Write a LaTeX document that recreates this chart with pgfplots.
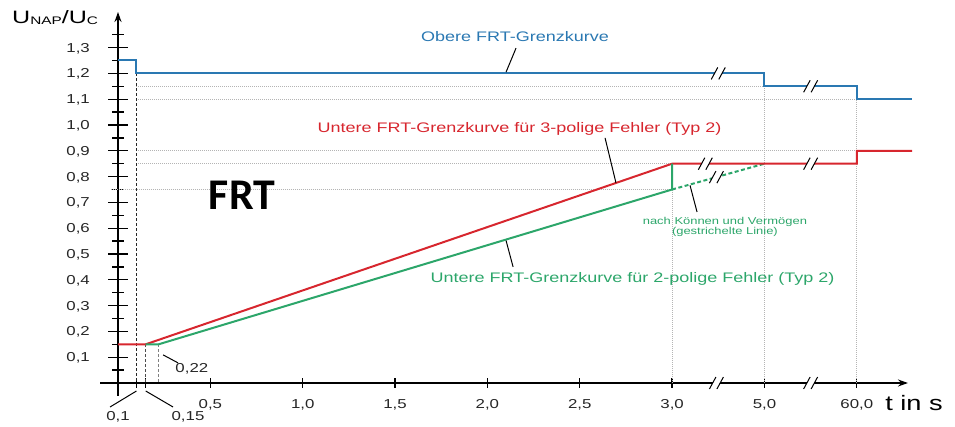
\documentclass[border=0pt]{standalone}
\usepackage{fontspec}
\setmainfont{Liberation Sans}
\newfontfamily\frtfont{Carlito}
\usepackage{graphicx}
\usepackage{pgfplots}
\pgfplotsset{compat=1.18}
\usetikzlibrary{arrows.meta}
\definecolor{cblue}{HTML}{2A78B2}
\definecolor{cred}{HTML}{D7262E}
\definecolor{cgreen}{HTML}{2CA66A}
\definecolor{cdot}{HTML}{B4B4B4}
\newcommand\sx[1]{\scalebox{1.3}[1]{#1}}
\newcommand\brk[2]{%
  \fill[white] ([shift={(-6.5bp,-6bp)}]axis cs:#1,#2) -- ([shift={(0.5bp,-6bp)}]axis cs:#1,#2) -- ([shift={(6.5bp,6bp)}]axis cs:#1,#2) -- ([shift={(-0.5bp,6bp)}]axis cs:#1,#2) -- cycle;
  \draw[line width=1bp] ([shift={(-7bp,-6bp)}]axis cs:#1,#2) -- ([shift={(-0.5bp,6bp)}]axis cs:#1,#2);
  \draw[line width=1bp] ([shift={(0.5bp,-6bp)}]axis cs:#1,#2) -- ([shift={(7bp,6bp)}]axis cs:#1,#2);
}
\begin{document}
\begin{tikzpicture}
\begin{axis}[
  x=184.7bp, y=258bp,
  xmin=-0.097, xmax=4.277, ymin=-0.05, ymax=1.438,
  enlargelimits=false, clip=false,
  axis lines=middle,
  axis line style={line width=1.7bp, -{Stealth[length=10bp,width=7bp]}},
  xtick={0.5,1,1.5,2,2.5,3,3.5,4},
  xticklabels={\sx{0,5},\sx{1,0},\sx{1,5},\sx{2,0},\sx{2,5},\sx{3,0},\sx{5,0},\sx{60,0}},
  extra x ticks={0.1,0.15},
  extra x tick labels={},
  ytick={0.1,0.2,0.3,0.4,0.5,0.6,0.7,0.8,0.9,1.0,1.1,1.2,1.3},
  yticklabels={\sx{0,1},\sx{0,2},\sx{0,3},\sx{0,4},\sx{0,5},\sx{0,6},\sx{0,7},\sx{0,8},\sx{0,9},\sx{1,0},\sx{1,1},\sx{1,2},\sx{1,3}},
  minor ytick={0.05,0.15,0.25,0.35,0.45,0.55,0.65,0.75,0.85,0.95,1.05,1.15,1.25,1.35},
  tick style={black, line width=1.3bp},
  tick align=center,
  major tick length=20bp,
  minor tick length=12bp,
  xtick style={/pgfplots/major tick length=10bp},
  tick label style={font=\fontsize{13}{15}\selectfont, inner sep=0pt, text=black!85},
  xticklabel style={anchor=base, yshift=-16bp},
  yticklabel style={anchor=base east, xshift=-18bp, yshift=-4.6bp},
]
% reference lines
\addplot[cdot, line width=0.7bp, dash pattern=on 0.8bp off 1.2bp, forget plot] coordinates {(0.1,1.15)(3.5,1.15)};
\addplot[cdot, line width=0.7bp, dash pattern=on 0.8bp off 1.2bp, forget plot] coordinates {(0.1,1.1)(4.0,1.1)};
\addplot[cdot, line width=0.7bp, dash pattern=on 0.8bp off 1.2bp, forget plot] coordinates {(0.1,0.9)(4.0,0.9)};
\addplot[cdot, line width=0.7bp, dash pattern=on 0.8bp off 1.2bp, forget plot] coordinates {(0.1,0.85)(3.0,0.85)};
\addplot[cdot, line width=0.7bp, dash pattern=on 0.8bp off 1.2bp, forget plot] coordinates {(-0.04,0.75)(3.0,0.75)};
\addplot[cdot, line width=0.7bp, dash pattern=on 0.8bp off 1.2bp, forget plot] coordinates {(3.0,0)(3.0,0.75)};
\addplot[cdot, line width=0.7bp, dash pattern=on 0.8bp off 1.2bp, forget plot] coordinates {(3.5,0)(3.5,1.2)};
\addplot[cdot, line width=0.7bp, dash pattern=on 0.8bp off 1.2bp, forget plot] coordinates {(4.0,0)(4.0,1.15)};
\addplot[black!85, line width=0.9bp, dash pattern=on 3bp off 2bp, forget plot] coordinates {(0.1,1.2)(0.1,0)};
\addplot[black!70, line width=0.9bp, dash pattern=on 3bp off 2bp, forget plot] coordinates {(0.15,0.15)(0.15,0)};
\addplot[black!50, line width=0.9bp, dash pattern=on 3bp off 2bp, forget plot] coordinates {(0.22,0.15)(0.22,0)};
% curves
\addplot[cblue, line width=2bp] coordinates {(0,1.25)(0.1,1.25)(0.1,1.2)(3.5,1.2)(3.5,1.15)(4.0,1.15)(4.0,1.1)(4.3,1.1)};
\addplot[cgreen, line width=2bp, dash pattern=on 4bp off 2.5bp] coordinates {(3.0,0.75)(3.5,0.85)};
\addplot[cred, line width=2bp] coordinates {(0,0.15)(0.15,0.15)(3.0,0.85)(4.0,0.85)(4.0,0.9)(4.3,0.9)};
\addplot[cgreen, line width=2bp] coordinates {(0.15,0.15)(0.22,0.15)(3.0,0.75)(3.0,0.85)};
% breaks
\brk{3.25}{1.2}
\brk{3.75}{1.15}
\brk{3.18}{0.85}
\brk{3.75}{0.85}
\brk{3.24}{0.798}
\brk{3.24}{0}
\brk{3.75}{0}
% texts
\node[anchor=base, inner sep=0, text=cblue, font=\fontsize{13.9}{16}\selectfont] at (axis cs:2.149,1.322) {\sx{Obere FRT-Grenzkurve}};
\draw[line width=1bp] (axis cs:2.155,1.298) -- (axis cs:2.101,1.205);
\node[anchor=base, inner sep=0, text=cred, font=\fontsize{13.9}{16}\selectfont] at (axis cs:2.174,0.969) {\sx{Untere FRT-Grenzkurve für 3-polige Fehler (Typ 2)}};
\draw[line width=1bp] (axis cs:2.637,0.950) -- (axis cs:2.696,0.776);
\node[anchor=base, inner sep=0, text=cgreen, font=\fontsize{13.9}{16}\selectfont] at (axis cs:2.786,0.388) {\sx{Untere FRT-Grenzkurve für 2-polige Fehler (Typ 2)}};
\draw[line width=1bp] (axis cs:2.139,0.450) -- (axis cs:2.101,0.552);
\node[anchor=base, inner sep=0, text=cgreen, font=\fontsize{10}{11}\selectfont] at (axis cs:3.286,0.616) {\sx{nach Können und Vermögen}};
\node[anchor=base, inner sep=0, text=cgreen, font=\fontsize{10}{11}\selectfont] at (axis cs:3.286,0.574) {\sx{(gestrichelte Linie)}};
\draw[line width=1bp] (axis cs:3.097,0.766) -- (axis cs:3.135,0.663);
\node[anchor=base, inner sep=0, font=\frtfont\bfseries\fontsize{44}{44}\selectfont] at (axis cs:0.671,0.671) {FRT};
\node[anchor=base west, inner sep=0] at (axis cs:-0.574,1.395) {\scalebox{1.4}[1]{\fontsize{18}{20}\selectfont U\raisebox{-1bp}{\fontsize{11}{12}\selectfont NAP}/U\raisebox{-1bp}{\fontsize{11}{12}\selectfont C}}};
\node[anchor=base, inner sep=0, font=\fontsize{21}{24}\selectfont] at (axis cs:4.31,-0.105) {\sx{t in s}};
\node[anchor=base, inner sep=0, text=black!85, font=\fontsize{13}{15}\selectfont] at (axis cs:0.40,0.039) {\sx{0,22}};
\draw[line width=1bp] (axis cs:0.244,0.109) -- (axis cs:0.325,0.078);
\node[anchor=base, inner sep=0, text=black!85, font=\fontsize{13}{15}\selectfont] at (axis cs:0,-0.147) {\sx{0,1}};
\draw[line width=1bp] (axis cs:0.1,-0.031) -- (axis cs:-0.043,-0.093);
\node[anchor=base, inner sep=0, text=black!85, font=\fontsize{13}{15}\selectfont] at (axis cs:0.379,-0.147) {\sx{0,15}};
\draw[line width=1bp] (axis cs:0.15,-0.031) -- (axis cs:0.298,-0.093);
\coordinate (bl) at (axis cs:-0.6389,-0.1705);
\coordinate (tr) at (axis cs:4.5317,1.4845);
\end{axis}
\pgfresetboundingbox
\path[use as bounding box] (bl) rectangle (tr);
\end{tikzpicture}
\end{document}
